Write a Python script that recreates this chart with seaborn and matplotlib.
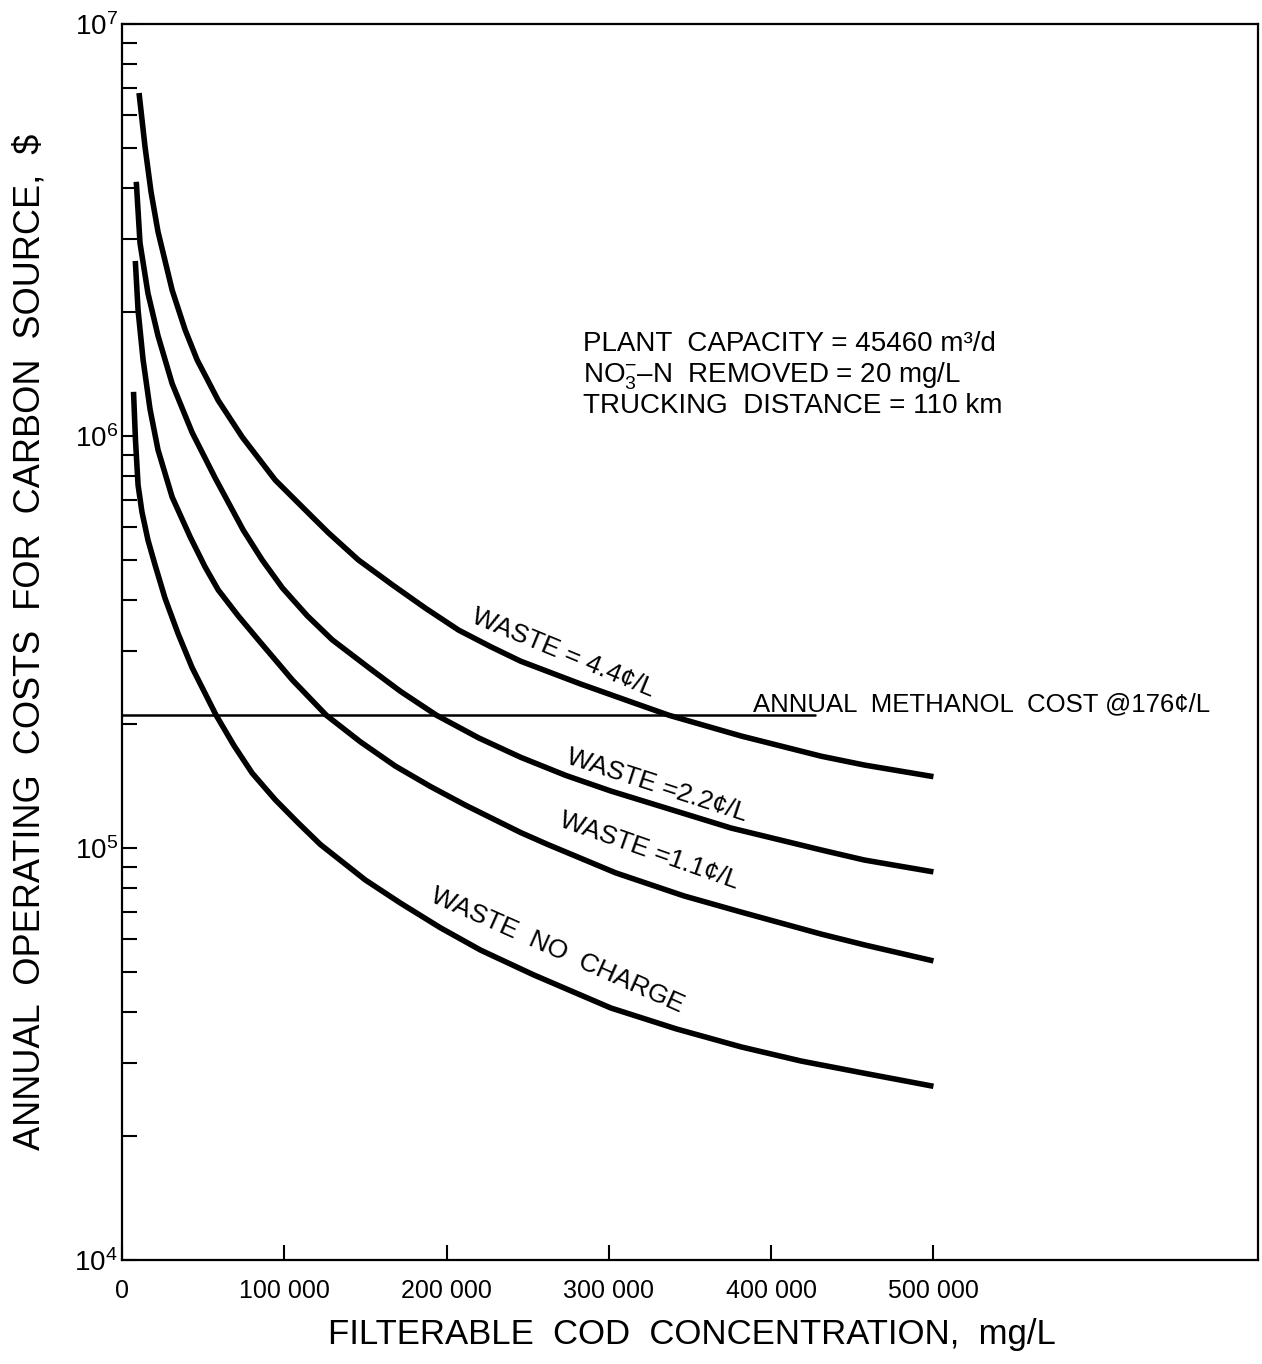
import numpy as np
import pandas as pd
import matplotlib
matplotlib.use("Agg")
import matplotlib.pyplot as plt
import seaborn as sns
from matplotlib.ticker import FixedLocator, LogLocator, NullFormatter, FuncFormatter

# ---------------- data ----------------
waste_44_x = [10500, 14200, 17900, 22200, 30900, 38900, 46300, 59300, 74100, 94400,
              117300, 127200, 145700, 166700, 187000, 207400, 227200, 245700, 282700,
              315400, 337000, 381500, 430900, 457400, 500000]
waste_44_y = [6.80e6, 5.03e6, 3.91e6, 3.13e6, 2.26e6, 1.81e6, 1.53e6, 1.22e6, 9.94e5, 7.82e5,
              6.36e5, 5.82e5, 5.00e5, 4.35e5, 3.82e5, 3.38e5, 3.08e5, 2.84e5, 2.50e5,
              2.25e5, 2.10e5, 1.87e5, 1.67e5, 1.59e5, 1.49e5]

waste_22_x = [8800, 11100, 16000, 22200, 30900, 43200, 57400, 74700, 86400, 98800,
              114200, 129600, 153100, 171600, 193800, 219800, 245700, 273500, 301200,
              375300, 430900, 457400, 500000]
waste_22_y = [4.14e6, 2.94e6, 2.22e6, 1.75e6, 1.34e6, 1.02e6, 7.91e5, 5.91e5, 5.00e5, 4.28e5,
              3.66e5, 3.20e5, 2.72e5, 2.40e5, 2.10e5, 1.85e5, 1.66e5, 1.50e5, 1.375e5,
              1.118e5, 9.89e4, 9.35e4, 8.75e4]

waste_11_x = [8200, 9900, 13000, 17300, 22200, 30900, 42000, 51200, 59300, 71600,
              84000, 104900, 125900, 146900, 168500, 190100, 211700, 245700, 262300,
              304300, 346300, 381500, 430900, 457400, 500000]
waste_11_y = [2.66e6, 2.02e6, 1.53e6, 1.16e6, 9.25e5, 7.11e5, 5.69e5, 4.81e5, 4.23e5, 3.66e5,
              3.20e5, 2.56e5, 2.10e5, 1.81e5, 1.58e5, 1.41e5, 1.27e5, 1.09e5, 1.02e5,
              8.70e4, 7.65e4, 6.99e4, 6.18e4, 5.82e4, 5.32e4]

waste_nc_x = [7100, 8300, 9900, 12300, 16000, 20400, 26500, 34600, 43200, 58000,
              69100, 80200, 94400, 108600, 122200, 150000, 171600, 196300, 221000,
              253700, 301200, 341400, 381500, 418500, 457400, 500000]
waste_nc_y = [1.28e6, 9.78e5, 7.60e5, 6.54e5, 5.59e5, 4.86e5, 4.04e5, 3.31e5, 2.74e5, 2.10e5,
              1.77e5, 1.52e5, 1.31e5, 1.15e5, 1.02e5, 8.36e4, 7.35e4, 6.40e4, 5.65e4,
              4.92e4, 4.09e4, 3.64e4, 3.29e4, 3.04e4, 2.84e4, 2.64e4]

methanol_x = [0, 427000]
methanol_y = [2.1e5, 2.1e5]

x_ticks = [0, 100000, 200000, 300000, 400000, 500000]
x_tick_labels = ["0", "100 000", "200 000", "300 000", "400 000", "500 000"]
y_major = [1e4, 1e5, 1e6, 1e7]

curve_labels = ["WASTE = 4.4¢/L", "WASTE =2.2¢/L", "WASTE =1.1¢/L", "WASTE  NO  CHARGE"]
methanol_label = "ANNUAL  METHANOL  COST @176¢/L"
info_lines = ["PLANT  CAPACITY = 45460 m³/d",
              r"NO$_{3}^{-}$–N  REMOVED = 20 mg/L",
              "TRUCKING  DISTANCE = 110 km"]
x_label = "FILTERABLE  COD  CONCENTRATION,  mg/L"
y_label = "ANNUAL  OPERATING  COSTS  FOR  CARBON  SOURCE,  $"

# ---------------- styling ----------------
sns.set_theme(style="ticks")
plt.rcParams['font.family'] = ['Liberation Sans', 'DejaVu Sans']
plt.rcParams['mathtext.fontset'] = 'custom'
plt.rcParams['mathtext.rm'] = 'Liberation Sans'
plt.rcParams['mathtext.it'] = 'Liberation Sans:italic'
plt.rcParams['mathtext.bf'] = 'Liberation Sans:bold'
plt.rcParams['text.color'] = 'black'

W, H = 1262, 1364
fig = plt.figure(figsize=(W / 100, H / 100), dpi=100)
fig.patch.set_facecolor('white')
ax = fig.add_axes([122 / W, 1 - 1260 / H, 1136 / W, 1236 / H])
ax.set_facecolor('white')
ax.set_yscale('log')

frames = []
for name, xs, ys in [("4.4", waste_44_x, waste_44_y), ("2.2", waste_22_x, waste_22_y),
                     ("1.1", waste_11_x, waste_11_y), ("nc", waste_nc_x, waste_nc_y)]:
    frames.append(pd.DataFrame({"cod": xs, "cost": ys, "series": name}))
df = pd.concat(frames, ignore_index=True)

sns.lineplot(data=df, x="cod", y="cost", units="series", estimator=None, sort=False,
             color="black", linewidth=4.0, legend=False, ax=ax,
             solid_capstyle="butt", solid_joinstyle="round")
sns.lineplot(x=methanol_x, y=methanol_y, color="black", linewidth=1.8, ax=ax,
             estimator=None, legend=False)

ax.set_xlim(0, 700000)
ax.set_ylim(1e4, 1e7)

ax.xaxis.set_major_locator(FixedLocator(x_ticks))
ax.set_xticklabels(x_tick_labels)
ax.yaxis.set_major_locator(FixedLocator(y_major))
ax.yaxis.set_major_formatter(FuncFormatter(lambda v, p: r"$10^{%d}$" % int(round(np.log10(v)))))
ax.yaxis.set_minor_locator(LogLocator(base=10, subs=range(2, 10)))
ax.yaxis.set_minor_formatter(NullFormatter())

ax.tick_params(axis='both', which='both', direction='in', top=False, right=False,
               width=1.5, color='black', labelcolor='black')
ax.tick_params(axis='y', which='major', length=11, pad=3, labelsize=20)
ax.tick_params(axis='y', which='minor', length=11)
ax.tick_params(axis='x', which='major', length=11, pad=14, labelsize=18)

for s in ax.spines.values():
    s.set_visible(True)
    s.set_color('black')
    s.set_linewidth(1.6)

ax.set_xlabel(x_label, fontsize=25, color='black')
ax.set_ylabel(y_label, fontsize=26, color='black')
ax.xaxis.set_label_coords(0.502, -0.047)
ax.yaxis.set_label_coords(-0.066, 0.5)

fs = 19
ax.text(272000, 2.97e5, curve_labels[0], rotation=-22.5, rotation_mode='anchor',
        ha='center', va='center', fontsize=fs)
ax.text(329600, 1.42e5, curve_labels[1], rotation=-18, rotation_mode='anchor',
        ha='center', va='center', fontsize=fs)
ax.text(324700, 9.83e4, curve_labels[2], rotation=-19.5, rotation_mode='anchor',
        ha='center', va='center', fontsize=fs)
ax.text(268500, 5.65e4, curve_labels[3], rotation=-24, rotation_mode='anchor',
        ha='center', va='center', fontsize=fs)
ax.text(388900, 2.15e5, methanol_label, ha='left', va='baseline', fontsize=18.5)

for i, line in enumerate(info_lines):
    ax.text(0.4058, 0.7354 - i * 0.0251, line, transform=ax.transAxes,
            ha='left', va='baseline', fontsize=20)

fig.savefig("out.png", dpi=100, facecolor='white')
